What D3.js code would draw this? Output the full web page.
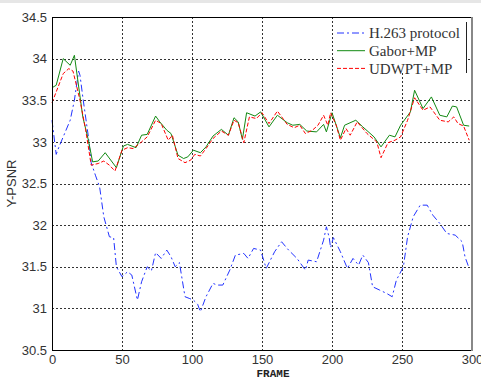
<!DOCTYPE html>
<html>
<head>
<meta charset="utf-8">
<script src="https://cdn.jsdelivr.net/npm/d3@7"></script>
<style>
  body { margin: 0; background: #fff; }
  svg { display: block; }
</style>
</head>
<body>
<svg width="481" height="380"></svg>
<script>
// frame numbers and PSNR values
let h263Frames = [0, 3, 5, 8, 13, 16, 19, 20, 22, 26, 28, 31, 34, 37, 41, 44, 46, 50, 54, 57, 61, 64, 68, 71, 74, 78, 82, 85, 88, 91, 95, 98, 101, 104, 106, 110, 115, 118, 122, 127, 131, 137, 140, 144, 149, 153, 159, 164, 169, 175, 181, 183, 189, 194, 196, 198, 199, 201, 206, 211, 215, 219, 222, 226, 229, 234, 239, 243, 246, 251, 254, 258, 263, 268, 272, 277, 282, 288, 293, 295, 298];
let h263Values = [33.26, 32.85, 32.94, 33.06, 33.26, 33.5, 33.85, 33.8, 33.54, 33.06, 32.75, 32.6, 32.46, 32.1, 31.86, 31.85, 31.5, 31.38, 31.44, 31.4, 31.1, 31.32, 31.5, 31.45, 31.67, 31.6, 31.7, 31.62, 31.5, 31.55, 31.14, 31.12, 31.1, 31.05, 30.96, 31.14, 31.3, 31.28, 31.28, 31.46, 31.64, 31.66, 31.6, 31.72, 31.7, 31.48, 31.68, 31.8, 31.7, 31.6, 31.46, 31.58, 31.56, 31.82, 31.98, 31.85, 31.73, 31.85, 31.68, 31.48, 31.6, 31.52, 31.64, 31.55, 31.26, 31.22, 31.18, 31.14, 31.34, 31.5, 31.86, 32.1, 32.24, 32.24, 32.12, 32.02, 31.9, 31.88, 31.8, 31.62, 31.48];

let gaborFrames = [0, 3, 8, 13, 16, 22, 26, 29, 33, 38, 46, 51, 54, 60, 64, 68, 74, 77, 82, 85, 90, 94, 97, 101, 106, 110, 115, 121, 126, 130, 133, 136, 139, 145, 149, 155, 161, 168, 172, 177, 182, 189, 194, 196, 200, 206, 209, 217, 222, 230, 235, 241, 245, 249, 256, 259, 265, 271, 277, 282, 286, 289, 294, 298];
let gaborValues = [33.65, 33.68, 34.0, 33.92, 34.04, 33.3, 33.02, 32.76, 32.77, 32.87, 32.69, 32.95, 32.97, 32.93, 33.08, 33.09, 33.31, 33.24, 33.14, 33.1, 32.84, 32.8, 32.82, 32.9, 32.87, 32.94, 33.07, 33.15, 33.08, 33.29, 33.24, 33.03, 33.35, 33.31, 33.36, 33.18, 33.32, 33.23, 33.2, 33.21, 33.13, 33.12, 33.21, 33.12, 33.35, 33.05, 33.2, 33.26, 33.18, 33.06, 32.94, 33.08, 33.06, 33.2, 33.36, 33.62, 33.4, 33.54, 33.32, 33.3, 33.43, 33.42, 33.2, 33.19];

let udwptFrames = [0, 3, 8, 12, 15, 20, 24, 28, 33, 37, 41, 45, 50, 54, 58, 64, 68, 74, 78, 83, 86, 90, 95, 99, 102, 106, 110, 115, 121, 126, 130, 133, 137, 141, 146, 150, 155, 161, 168, 173, 177, 181, 186, 190, 194, 197, 199, 203, 206, 210, 213, 218, 225, 232, 235, 240, 245, 249, 254, 259, 265, 270, 277, 283, 287, 290, 294, 298];
let udwptValues = [33.47, 33.6, 33.82, 33.88, 33.85, 33.5, 33.15, 32.72, 32.74, 32.77, 32.72, 32.65, 32.9, 32.93, 32.92, 33.0, 33.06, 33.26, 33.22, 33.02, 33.08, 32.8, 32.75, 32.78, 32.85, 32.83, 32.92, 33.04, 33.13, 33.08, 33.26, 33.23, 32.99, 33.3, 33.28, 33.35, 33.22, 33.37, 33.21, 33.17, 33.2, 33.1, 33.14, 33.2, 33.32, 33.2, 33.35, 33.2, 33.02, 33.16, 33.08, 33.24, 33.1, 33.0, 32.81, 32.99, 33.02, 33.06, 33.26, 33.53, 33.38, 33.42, 33.26, 33.24, 33.3, 33.22, 33.19, 33.02];

let xTicks = [0, 50, 100, 150, 200, 250, 300];
let yTicks = [30.5, 31, 31.5, 32, 32.5, 33, 33.5, 34, 34.5];
let legendNames = ["H.263 protocol", "Gabor+MP", "UDWPT+MP"];

let svg = d3.select("svg");
let margin = {top: 17, right: 9, bottom: 30, left: 52};
let width = +svg.attr("width") - margin.left - margin.right;
let height = +svg.attr("height") - margin.top - margin.bottom;

// light band at the very top of the screenshot
svg.append("rect").attr("x", 0).attr("y", 0).attr("width", 481).attr("height", 3).attr("fill", "#e6e6e6");

let x = d3.scaleLinear().domain([0, 300]).range([0, width]);
let y = d3.scaleLinear().domain([30.5, 34.5]).range([height, 0]);

let g = svg.append("g")
    .attr("transform", "translate(" + margin.left + "," + margin.top + ")");

// grid
g.append("g")
    .selectAll("line")
    .data(xTicks.slice(1, -1))
    .enter().append("line")
    .attr("x1", d => x(d) + 0.5).attr("x2", d => x(d) + 0.5)
    .attr("y1", 0).attr("y2", height)
    .attr("stroke", "#333").attr("stroke-dasharray", "2,2");

g.append("g")
    .selectAll("line")
    .data(yTicks.slice(1, -1))
    .enter().append("line")
    .attr("x1", 0).attr("x2", width)
    .attr("y1", d => Math.round(y(d)) + 0.5).attr("y2", d => Math.round(y(d)) + 0.5)
    .attr("stroke", "#333").attr("stroke-dasharray", "2,2");

// series
let series = [
    {frames: h263Frames, values: h263Values, color: "#2233ff", dash: "7,3,2,3"},
    {frames: gaborFrames, values: gaborValues, color: "#138a13", dash: null},
    {frames: udwptFrames, values: udwptValues, color: "#ff0000", dash: "4,2"}
];

let line = d3.line()
    .x(d => x(d[0]))
    .y(d => y(d[1]));

series.forEach(function (s) {
    g.append("path")
        .datum(d3.zip(s.frames, s.values))
        .attr("fill", "none")
        .attr("stroke", s.color)
        .attr("stroke-width", 1)
        .attr("stroke-dasharray", s.dash)
        .attr("d", line);
});

// box
g.append("line").attr("x1", 0).attr("x2", width).attr("y1", 0.5).attr("y2", 0.5).attr("stroke", "#000");
g.append("line").attr("x1", 0.5).attr("x2", 0.5).attr("y1", 0).attr("y2", height).attr("stroke", "#000");
g.append("line").attr("x1", 0).attr("x2", width).attr("y1", height + 0.5).attr("y2", height + 0.5).attr("stroke", "#000");
g.append("line").attr("x1", width).attr("x2", width).attr("y1", 0).attr("y2", height + 1).attr("stroke", "#888").attr("stroke-width", 2);

// axes
let xAxis = g.append("g")
    .attr("transform", "translate(0," + height + ")")
    .call(d3.axisBottom(x).tickValues(xTicks).tickFormat(d => String(d)).tickSize(0).tickPadding(5));
let yAxis = g.append("g")
    .call(d3.axisLeft(y).tickValues(yTicks).tickFormat(d => String(d)).tickSize(0).tickPadding(5));

[xAxis, yAxis].forEach(function (a) {
    a.select(".domain").remove();
    a.selectAll("text")
        .attr("fill", "#333")
        .style("font-family", "'Liberation Sans', Arial, sans-serif")
        .style("font-size", "13px");
});

g.append("text")
    .attr("transform", "translate(" + (-41) + "," + (height / 2) + ") rotate(-90)")
    .attr("text-anchor", "middle")
    .attr("dy", "0.35em")
    .attr("fill", "#333")
    .style("font-family", "'Liberation Sans', Arial, sans-serif")
    .style("font-size", "13px")
    .text("Y-PSNR");

g.append("text")
    .attr("x", x(150) + 11)
    .attr("y", height + 27)
    .attr("text-anchor", "middle")
    .attr("fill", "#222")
    .style("font-family", "'Liberation Mono', monospace")
    .style("font-weight", "bold")
    .style("font-size", "11px")
    .text("FRAME");

// legend
let lg = g.append("g").attr("transform", "translate(" + (x(200) + 2) + ",1)");
lg.append("rect").attr("width", 132).attr("height", 55).attr("fill", "#fff");
lg.append("line").attr("x1", 132.5).attr("x2", 132.5).attr("y1", 4).attr("y2", 55).attr("stroke", "#222");

let rows = lg.selectAll(".row")
    .data(series)
    .enter().append("g")
    .attr("transform", (d, i) => "translate(0," + (15 + i * 17.7) + ")");
rows.append("line")
    .attr("x1", 3).attr("x2", 31)
    .attr("stroke", d => d.color)
    .attr("stroke-dasharray", d => d.dash);
rows.append("text")
    .attr("x", 35)
    .attr("dy", "0.35em")
    .attr("fill", "#333")
    .style("font-family", "'Liberation Serif', 'Times New Roman', serif")
    .style("font-size", "15px")
    .text((d, i) => legendNames[i]);
</script>
</body>
</html>
